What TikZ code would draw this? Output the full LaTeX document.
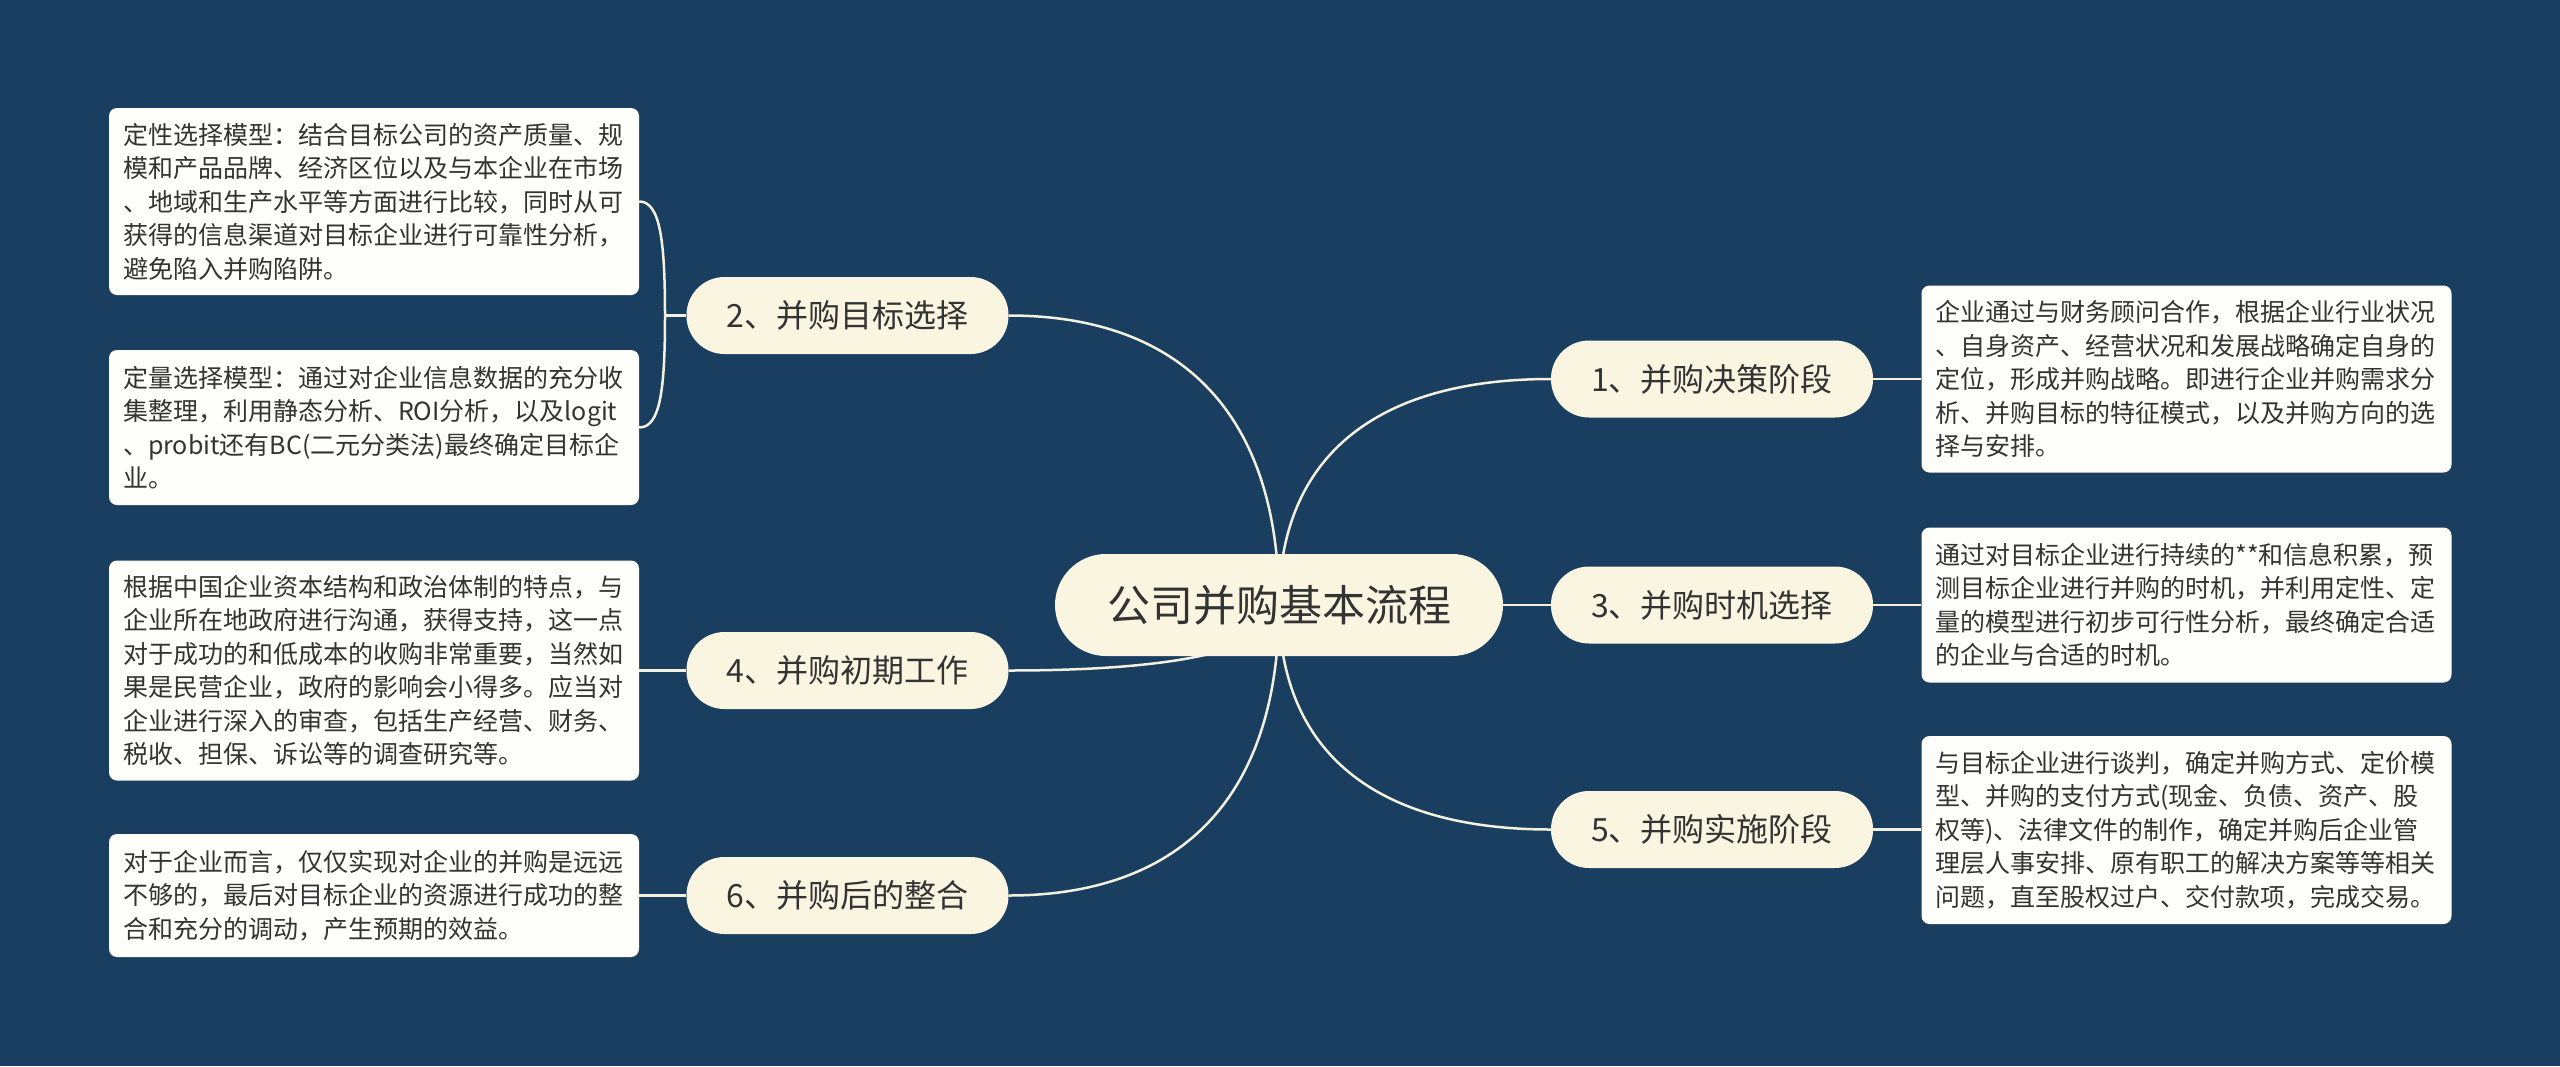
\documentclass[tikz,border=0pt]{standalone}
\usepackage{fontspec}
\setmainfont{Noto Sans CJK SC}
\pgfdeclarelayer{bgl}
\pgfdeclarelayer{edgel}
\pgfsetlayers{bgl,edgel,main}
\definecolor{bgblue}{HTML}{1A3E5F}
\definecolor{pillc}{HTML}{FAF5E1}
\definecolor{boxc}{HTML}{FEFEFA}
\definecolor{edgec}{HTML}{F4F0DE}
\definecolor{txtc}{HTML}{333333}
\begin{document}
\begin{tikzpicture}[x=1pt,y=-1pt,
  rootnode/.style={fill=pillc, rounded corners=51pt, minimum width=448pt, minimum height=102pt, inner sep=0pt, text=txtc, font=\fontsize{43}{50}\selectfont},
  pill/.style={fill=pillc, rounded corners=38pt, minimum width=322pt, minimum height=77pt, inner sep=0pt, text=txtc, font=\fontsize{32}{38}\selectfont},
  infobox/.style={fill=boxc, rounded corners=8pt, text width=502pt, inner xsep=14pt, inner ysep=0pt, align=left, text=txtc, font=\fontsize{25}{33.5}\selectfont},
  link/.style={draw=edgec, line width=2.5pt},
]
\begin{pgfonlayer}{bgl}
\fill[bgblue] (0,0) rectangle (2560,1066);
\end{pgfonlayer}

\node[rootnode] (root) at (1279,605) {公司并购基本流程};

\node[pill] (p1) at (1712,379) {1、并购决策阶段};
\node[pill] (p3) at (1712,605) {3、并购时机选择};
\node[pill] (p5) at (1712,829.5) {5、并购实施阶段};
\node[pill] (p2) at (847.5,315.5) {2、并购目标选择};
\node[pill] (p4) at (847.5,670.5) {4、并购初期工作};
\node[pill] (p6) at (847.5,895.5) {6、并购后的整合};

\node[infobox, minimum height=187pt] (b1) at (374,201.5) {定性选择模型：结合目标公司的资产质量、规\\模和产品品牌、经济区位以及与本企业在市场\\、地域和生产水平等方面进行比较，同时从可\\获得的信息渠道对目标企业进行可靠性分析，\\避免陷入并购陷阱。};
\node[infobox, minimum height=155pt] (b2) at (374,427.5) {定量选择模型：通过对企业信息数据的充分收\\集整理，利用静态分析、ROI分析，以及logit\\、probit还有BC(二元分类法)最终确定目标企\\业。};
\node[infobox, minimum height=220pt] (b3) at (374,670.5) {根据中国企业资本结构和政治体制的特点，与\\企业所在地政府进行沟通，获得支持，这一点\\对于成功的和低成本的收购非常重要，当然如\\果是民营企业，政府的影响会小得多。应当对\\企业进行深入的审查，包括生产经营、财务、\\税收、担保、诉讼等的调查研究等。};
\node[infobox, minimum height=123pt] (b4) at (374,895.5) {对于企业而言，仅仅实现对企业的并购是远远\\不够的，最后对目标企业的资源进行成功的整\\合和充分的调动，产生预期的效益。};

\node[infobox, minimum height=187pt] (r1) at (2186.5,379) {企业通过与财务顾问合作，根据企业行业状况\\、自身资产、经营状况和发展战略确定自身的\\定位，形成并购战略。即进行企业并购需求分\\析、并购目标的特征模式，以及并购方向的选\\择与安排。};
\node[infobox, minimum height=155pt] (r3) at (2186.5,605) {通过对目标企业进行持续的**和信息积累，预\\测目标企业进行并购的时机，并利用定性、定\\量的模型进行初步可行性分析，最终确定合适\\的企业与合适的时机。};
\node[infobox, minimum height=188pt] (r5) at (2186.5,830) {与目标企业进行谈判，确定并购方式、定价模\\型、并购的支付方式(现金、负债、资产、股\\权等)、法律文件的制作，确定并购后企业管\\理层人事安排、原有职工的解决方案等等相关\\问题，直至股权过户、交付款项，完成交易。};

\coordinate (j2) at (665,315.5);

\begin{pgfonlayer}{edgel}
\draw[link] (root.center) .. controls (1279,458) and (1374,379) .. (p1.west);
\draw[link] (root.center) -- (p3.west);
\draw[link] (root.center) .. controls (1279,751) and (1374,829.5) .. (p5.west);
\draw[link] (root.center) .. controls (1279,417) and (1184,315.5) .. (p2.east);
\draw[link] (root.center) .. controls (1279,648) and (1184,670.5) .. (p4.east);
\draw[link] (root.center) .. controls (1279,794) and (1184,895.5) .. (p6.east);
\draw[link] (p1.east) -- (r1.west);
\draw[link] (p3.east) -- (r3.west);
\draw[link] (p5.east) -- (r5.west |- p5.east);
\draw[link] (p2.west) -- (j2);
\draw[link] (j2) .. controls (665,240) and (660,201.5) .. (b1.east);
\draw[link] (j2) .. controls (665,391) and (660,427.5) .. (b2.east);
\draw[link] (p4.west) -- (b3.east);
\draw[link] (p6.west) -- (b4.east);
\end{pgfonlayer}
\end{tikzpicture}
\end{document}
